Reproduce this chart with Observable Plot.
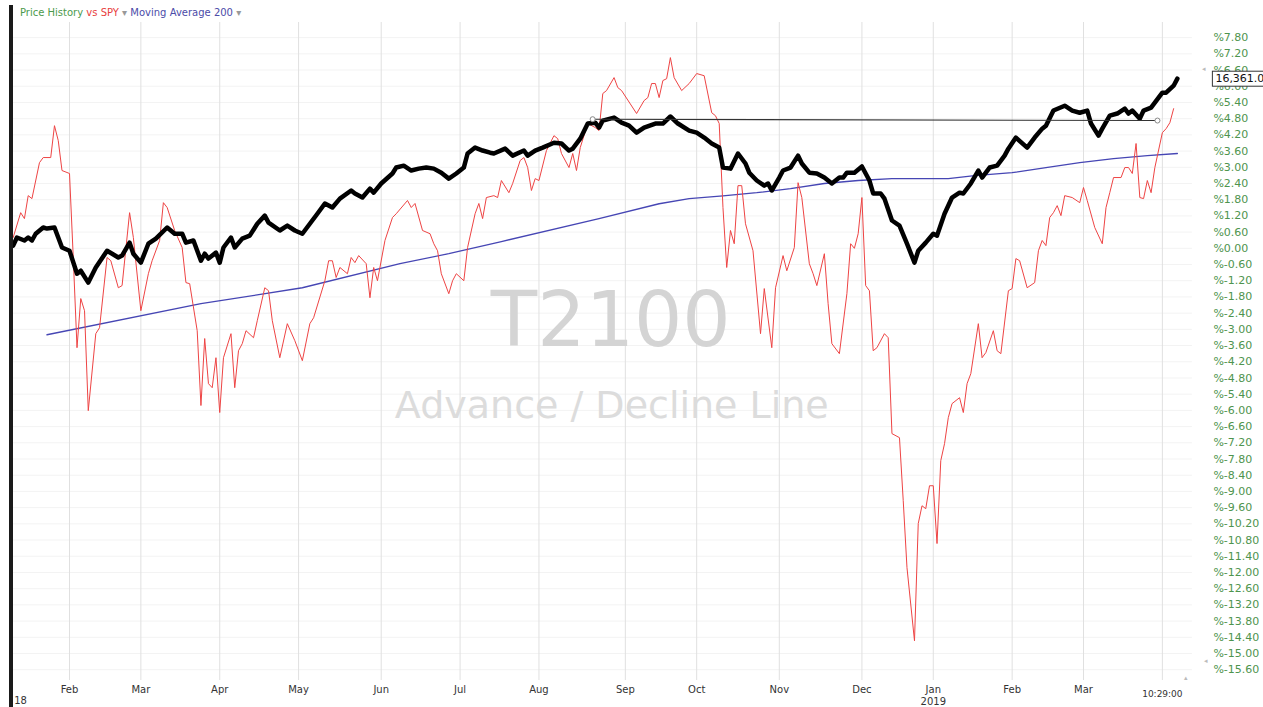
<!DOCTYPE html>
<html>
<head>
<meta charset="utf-8">
<script src="https://cdn.jsdelivr.net/npm/d3@7"></script>
<script src="https://cdn.jsdelivr.net/npm/@observablehq/plot@0.6"></script>
<style>
  html, body { margin: 0; padding: 0; background: #fff; overflow: hidden; }
  #wrap { position: relative; width: 1263px; height: 707px; }
  #legend { position: absolute; left: 20px; top: 7px; font: 10px "DejaVu Sans", sans-serif; white-space: nowrap; }
  #bar { position: absolute; left: 9px; top: 5px; width: 3.5px; height: 702px; background: #1a1a1a; }
  .tri { position: absolute; font: 7px "DejaVu Sans", sans-serif; color: #bbb; }
</style>
</head>
<body>
<div id="wrap">
  <div id="chart"></div>
  <div id="bar"></div>
  <div id="legend"><span style="color:#4c9a4c">Price History</span> <span style="color:#e84040">vs SPY</span> <span style="color:#999">▾</span> <span style="color:#4b4ba8">Moving Average 200</span> <span style="color:#999">▾</span></div>
  <span class="tri" style="left:1202px;top:65px">◂</span>
  <span class="tri" style="left:1204px;top:657px">◂</span>
  <span class="tri" style="left:1184px;top:674px">▴</span>
</div>
<script>
// x = trading-day index since mid-January 2018; y = % (right axis units)
const monthTicks = [15, 34, 55, 76, 98, 119, 140, 163, 182, 204, 226, 245, 266, 285];
const monthLabels = ["Feb","Mar","Apr","May","Jun","Jul","Aug","Sep","Oct","Nov","Dec","Jan\n2019","Feb","Mar"];
const nowTick = 306;
const nowLabel = "10:29:00";
const pctTicks = [7.8,7.2,6.6,6.0,5.4,4.8,4.2,3.6,3.0,2.4,1.8,1.2,0.6,0,-0.6,-1.2,-1.8,-2.4,-3.0,-3.6,-4.2,-4.8,-5.4,-6.0,-6.6,-7.2,-7.8,-8.4,-9.0,-9.6,-10.2,-10.8,-11.4,-12.0,-12.6,-13.2,-13.8,-14.4,-15.0,-15.6];

// Price History vs SPY (red)
const spyRel = [[0,0.40],[2,1.32],[3,1.10],[4,1.95],[5,1.84],[7,3.17],[8,3.36],[10,3.36],[11,4.54],[12,3.99],[13,2.88],[15,2.77],[16,-0.34],[17,-3.68],[18,-1.86],[19,-2.31],[20,-6.01],[22,-3.16],[23,-2.94],[25,-0.34],[26,-0.46],[28,-1.46],[29,-1.38],[31,1.32],[32,0.40],[34,-2.31],[36,-0.94],[37,-0.46],[39,0.29],[40,1.69],[41,1.51],[43,0.66],[45,0.03],[46,-1.27],[47,-1.31],[49,-3.05],[50,-5.82],[51,-3.34],[52,-5.01],[53,-5.16],[54,-4.05],[55,-6.08],[56,-4.05],[58,-3.16],[59,-5.16],[60,-3.79],[61,-3.53],[62,-3.05],[64,-3.31],[65,-2.68],[67,-1.46],[68,-1.57],[69,-2.68],[71,-4.05],[73,-2.79],[75,-3.42],[77,-4.16],[79,-2.79],[80,-2.57],[83,-1.20],[84,-0.46],[85,-0.46],[86,-1.08],[87,-0.71],[89,-0.94],[90,-0.34],[91,-0.53],[92,-0.27],[94,-0.57],[95,-1.83],[96,-0.71],[97,-1.20],[99,0.29],[101,1.14],[102,1.28],[105,1.77],[106,1.51],[107,1.66],[109,0.66],[111,0.54],[112,0.17],[113,-0.09],[114,-0.94],[116,-1.68],[117,-1.20],[118,-0.94],[120,-1.20],[121,0.03],[123,1.28],[124,1.66],[125,1.10],[126,1.88],[128,1.95],[129,1.88],[130,2.51],[132,2.06],[133,2.40],[135,3.25],[136,3.36],[137,2.99],[138,2.14],[139,2.58],[140,2.51],[142,3.62],[144,4.17],[145,4.06],[146,3.51],[148,2.99],[149,3.51],[150,2.88],[151,3.73],[153,4.62],[155,4.47],[156,4.36],[157,5.73],[158,5.84],[160,6.32],[161,5.95],[162,5.84],[166,4.99],[168,5.47],[169,5.58],[170,6.10],[171,6.10],[172,5.58],[173,6.21],[174,6.28],[175,7.06],[176,6.32],[178,5.84],[180,6.10],[182,6.47],[184,6.39],[186,5.02],[187,4.91],[188,4.62],[189,1.51],[190,-0.71],[191,0.66],[192,0.17],[193,2.32],[194,2.32],[195,0.91],[197,-0.09],[199,-3.16],[200,-1.49],[202,-3.68],[203,-1.46],[205,-0.27],[206,-0.83],[208,0.03],[209,2.43],[210,1.88],[212,-0.57],[213,-0.94],[214,-1.38],[216,-0.20],[217,-2.05],[218,-3.53],[220,-3.90],[222,-1.68],[223,0.17],[224,0.00],[225,0.54],[226,1.88],[227,-1.38],[228,-1.57],[229,-3.79],[230,-3.68],[232,-3.16],[233,-3.31],[234,-6.86],[236,-7.01],[237,-9.34],[238,-11.82],[240,-14.53],[241,-10.19],[242,-9.53],[243,-9.64],[244,-8.79],[245,-8.79],[246,-10.93],[247,-7.86],[248,-7.23],[249,-6.27],[250,-5.75],[252,-5.53],[253,-6.08],[254,-5.01],[255,-4.64],[257,-2.79],[258,-4.05],[259,-3.86],[261,-3.05],[262,-3.79],[263,-3.90],[265,-1.57],[266,-1.49],[267,-0.38],[268,-0.46],[270,-1.46],[272,-1.27],[273,-0.09],[274,0.29],[275,0.10],[276,1.14],[277,1.32],[278,1.58],[279,1.21],[280,1.95],[282,1.88],[284,1.69],[285,2.25],[286,1.77],[288,0.77],[290,0.17],[291,1.51],[292,2.06],[293,2.62],[295,2.62],[296,2.99],[297,2.99],[298,2.77],[299,3.88],[300,1.88],[301,1.84],[302,2.51],[303,2.06],[304,2.99],[306,4.28],[307,4.43],[308,4.65],[309,5.17]];

// T2100 Advance / Decline line (black), drawn in the right axis units
const adLine = [[0,0.10],[1,0.40],[3,0.29],[4,0.40],[5,0.29],[6,0.54],[8,0.77],[9,0.73],[11,0.77],[12,0.40],[13,0.03],[15,-0.09],[17,-0.94],[18,-0.83],[20,-1.27],[22,-0.71],[25,-0.09],[28,-0.34],[29,-0.27],[31,0.21],[32,-0.20],[34,-0.53],[36,0.17],[38,0.36],[41,0.77],[43,0.54],[45,0.54],[46,0.21],[48,0.29],[50,-0.46],[51,-0.20],[52,-0.38],[54,-0.16],[55,-0.53],[56,0.03],[58,0.40],[59,0.03],[61,0.36],[63,0.47],[65,0.91],[67,1.21],[68,0.95],[71,0.66],[73,0.84],[75,0.66],[77,0.54],[79,0.91],[81,1.28],[83,1.66],[85,1.51],[87,1.84],[90,2.14],[91,2.03],[93,1.88],[95,2.21],[96,2.06],[98,2.40],[101,2.77],[102,2.99],[104,3.06],[106,2.88],[108,2.95],[110,2.99],[112,2.95],[114,2.80],[116,2.58],[118,2.77],[120,2.99],[121,3.51],[123,3.73],[125,3.62],[127,3.54],[128,3.51],[131,3.69],[133,3.43],[136,3.62],[137,3.43],[139,3.62],[141,3.73],[144,3.91],[146,3.88],[148,3.62],[149,3.69],[151,4.06],[153,4.62],[155,4.65],[156,4.47],[157,4.73],[160,4.84],[162,4.65],[164,4.54],[166,4.28],[168,4.47],[171,4.62],[173,4.62],[175,4.88],[177,4.62],[180,4.36],[182,4.28],[184,4.10],[186,3.88],[188,3.73],[189,2.99],[191,2.95],[193,3.51],[195,3.14],[196,2.80],[198,2.51],[200,2.32],[201,2.40],[202,2.14],[204,2.62],[205,2.88],[207,2.99],[209,3.43],[210,3.14],[212,2.80],[214,2.77],[216,2.62],[218,2.40],[220,2.62],[221,2.62],[222,2.80],[224,2.80],[226,3.03],[228,2.51],[229,2.03],[231,2.03],[232,1.84],[234,1.03],[236,0.84],[238,0.17],[240,-0.53],[241,-0.09],[243,0.21],[245,0.54],[246,0.47],[248,1.28],[250,1.88],[252,2.06],[253,2.03],[255,2.40],[257,2.88],[258,2.62],[260,2.99],[262,3.06],[264,3.43],[265,3.69],[267,4.10],[270,3.73],[272,4.10],[274,4.43],[275,4.54],[277,5.10],[280,5.28],[282,5.10],[284,5.02],[286,5.10],[287,4.62],[289,4.17],[290,4.43],[292,4.91],[294,4.99],[296,5.17],[297,4.99],[298,5.10],[300,4.80],[301,5.10],[303,5.21],[305,5.58],[306,5.76],[307,5.76],[309,6.02],[310,6.28]];
const adLast = [[310, 6.28]];
const adLastLabel = "16,361.0";

// Moving Average 200 (blue)
const ma200 = [[9,-3.20],[50,-2.05],[77,-1.46],[103,-0.57],[116,-0.20],[130,0.25],[156,1.10],[172,1.65],[180,1.84],[189,1.94],[198,2.06],[207,2.21],[216,2.40],[225,2.51],[234,2.58],[249,2.58],[256,2.69],[266,2.80],[275,2.99],[284,3.17],[293,3.32],[302,3.43],[310,3.51]];

// drawn horizontal level line
const levelLine = [[154.3, 4.78], [304.7, 4.73]];

const labelOf = new Map(monthTicks.map((t, i) => [t, monthLabels[i]]));

const chart = Plot.plot({
  width: 1263,
  height: 707,
  marginLeft: 12.67,
  marginRight: 71.1,
  marginTop: 22,
  marginBottom: 27,
  x: {domain: [0, 314], axis: null},
  y: {domain: [-16, 8.36], axis: null},
  style: {fontFamily: "DejaVu Sans, sans-serif", background: "transparent"},
  marks: [
    Plot.gridY(pctTicks, {stroke: "#f3f3f3", strokeOpacity: 1}),
    Plot.gridX([...monthTicks, nowTick], {stroke: "#e0e0e0", strokeOpacity: 1}),
    Plot.text(["T2100"], {frameAnchor: "middle", dx: 8, dy: -30, fontSize: 76, fill: "#d4d4d4"}),
    Plot.text(["Advance / Decline Line"], {frameAnchor: "middle", dx: 9, dy: 54, fontSize: 38, fill: "#dcdcdc"}),
    Plot.line(ma200, {x: d => d[0], y: d => d[1], stroke: "#4646b4", strokeWidth: 1.3}),
    Plot.line(spyRel, {x: d => d[0], y: d => d[1], stroke: "#ee4444", strokeWidth: 1}),
    Plot.line(adLine, {x: d => d[0], y: d => d[1], stroke: "#000", strokeWidth: 4.5, strokeLinejoin: "round"}),
    Plot.line(levelLine, {x: d => d[0], y: d => d[1], stroke: "#333", strokeWidth: 1.1}),
    Plot.dot(levelLine, {x: d => d[0], y: d => d[1], r: 2.5, stroke: "#888", fill: "#fff", strokeWidth: 1}),
    Plot.axisY(pctTicks, {anchor: "right", tickSize: 0, tickPadding: 21, textAnchor: "start",
      tickFormat: d => "%" + d.toFixed(2), fill: "#4e944e", fontSize: 11}),
    Plot.axisX(monthTicks, {anchor: "bottom", tickSize: 0, tickPadding: 4, tickFormat: d => labelOf.get(d),
      fontSize: 10, fill: "#333", lineHeight: 1.2}),
    Plot.text([nowTick], {x: d => d, frameAnchor: "bottom", dy: 16, text: () => nowLabel, fontSize: 9, fill: "#333"}),
    Plot.text([0], {x: d => d, frameAnchor: "bottom", dx: 1, dy: 23, text: () => "18", textAnchor: "start", fontSize: 10, fill: "#333"}),
    Plot.text(adLast, {x: d => d[0], y: d => d[1], dx: 38, text: () => adLastLabel, textAnchor: "start", fontSize: 11, fill: "#111"})
  ]
});
document.getElementById("chart").append(chart);

// box behind the last-value label (it covers the %6.00 tick, as in the original)
const lbl = [...chart.querySelectorAll("text")].find(e => e.textContent === adLastLabel);
if (lbl) {
  const bb = lbl.getBBox();
  const r = document.createElementNS("http://www.w3.org/2000/svg", "rect");
  r.setAttribute("x", bb.x - 3);
  r.setAttribute("y", bb.y - 1);
  r.setAttribute("width", bb.width + 12);
  r.setAttribute("height", bb.height + 2);
  r.setAttribute("fill", "#fff");
  r.setAttribute("stroke", "#333");
  r.setAttribute("stroke-width", "1");
  const tr = lbl.getAttribute("transform");
  if (tr) r.setAttribute("transform", tr);
  lbl.parentNode.insertBefore(r, lbl);
}
</script>
</body>
</html>
